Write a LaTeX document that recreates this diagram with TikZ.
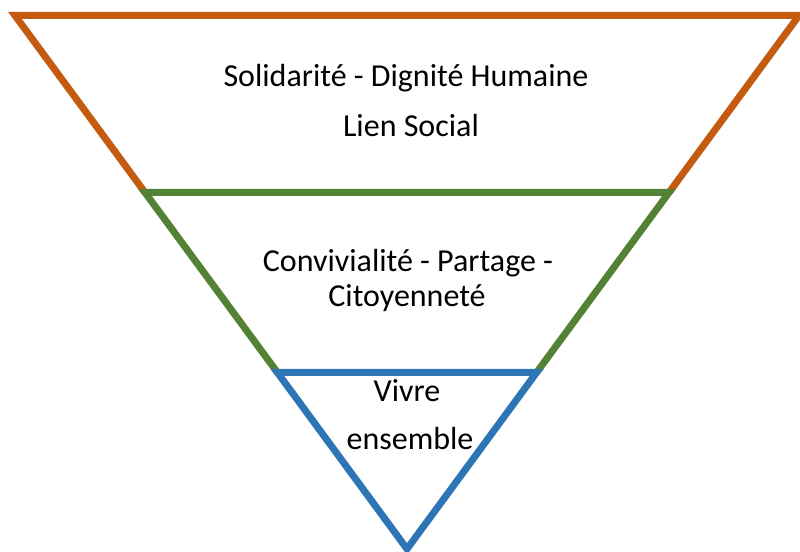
\documentclass[tikz,border=0pt]{standalone}
\usepackage{fontspec}
\setmainfont{Carlito}
\definecolor{orangecol}{rgb}{0.773,0.353,0.067}
\definecolor{greencol}{rgb}{0.329,0.510,0.208}
\definecolor{bluecol}{rgb}{0.180,0.459,0.714}
\tikzset{
  band/.style={line width=7bp,line join=miter,line cap=butt},
  label/.style={anchor=base,inner sep=0pt,font=\fontsize{32bp}{38bp}\selectfont}
}
\begin{document}
\begin{tikzpicture}[x=1bp,y=1bp]
  \useasboundingbox (0,0) rectangle (800,552);
  \clip (0,0) rectangle (800,552);
%%
  % Corners
  \coordinate (tl) at (15,536.5);
  \coordinate (tr) at (799,536.5);
  \coordinate (gl) at (145,359.5);
  \coordinate (gr) at (669,359.5);
  \coordinate (bl) at (277.4,179.5);
  \coordinate (br) at (536.6,179.5);
  \coordinate (apex) at (407,3);
  % Band: top
  \draw [band,orangecol] (gl) -- (tl) -- (tr) -- (gr);
  % Band: middle
  \draw [band,greencol] (bl) -- (gl) -- (gr) -- (br);
  % Band: bottom
  \draw [band,bluecol] (bl) -- (br) -- (apex) -- cycle;
  % Node: top texts
  \node [label] (solidarite) at (406,465) {Solidarité - Dignité Humaine};
  \node [label] (lien) at (411,415) {Lien Social};
  % Node: middle texts
  \node [label] (convivialite) at (408,280) {Convivialité - Partage -};
  \node [label] (citoyennete) at (407,245) {Citoyenneté};
  % Node: bottom texts
  \node [label] (vivre) at (407,150) {Vivre};
  \node [label] (ensemble) at (410,102) {ensemble};
%
\end{tikzpicture}
\end{document}
